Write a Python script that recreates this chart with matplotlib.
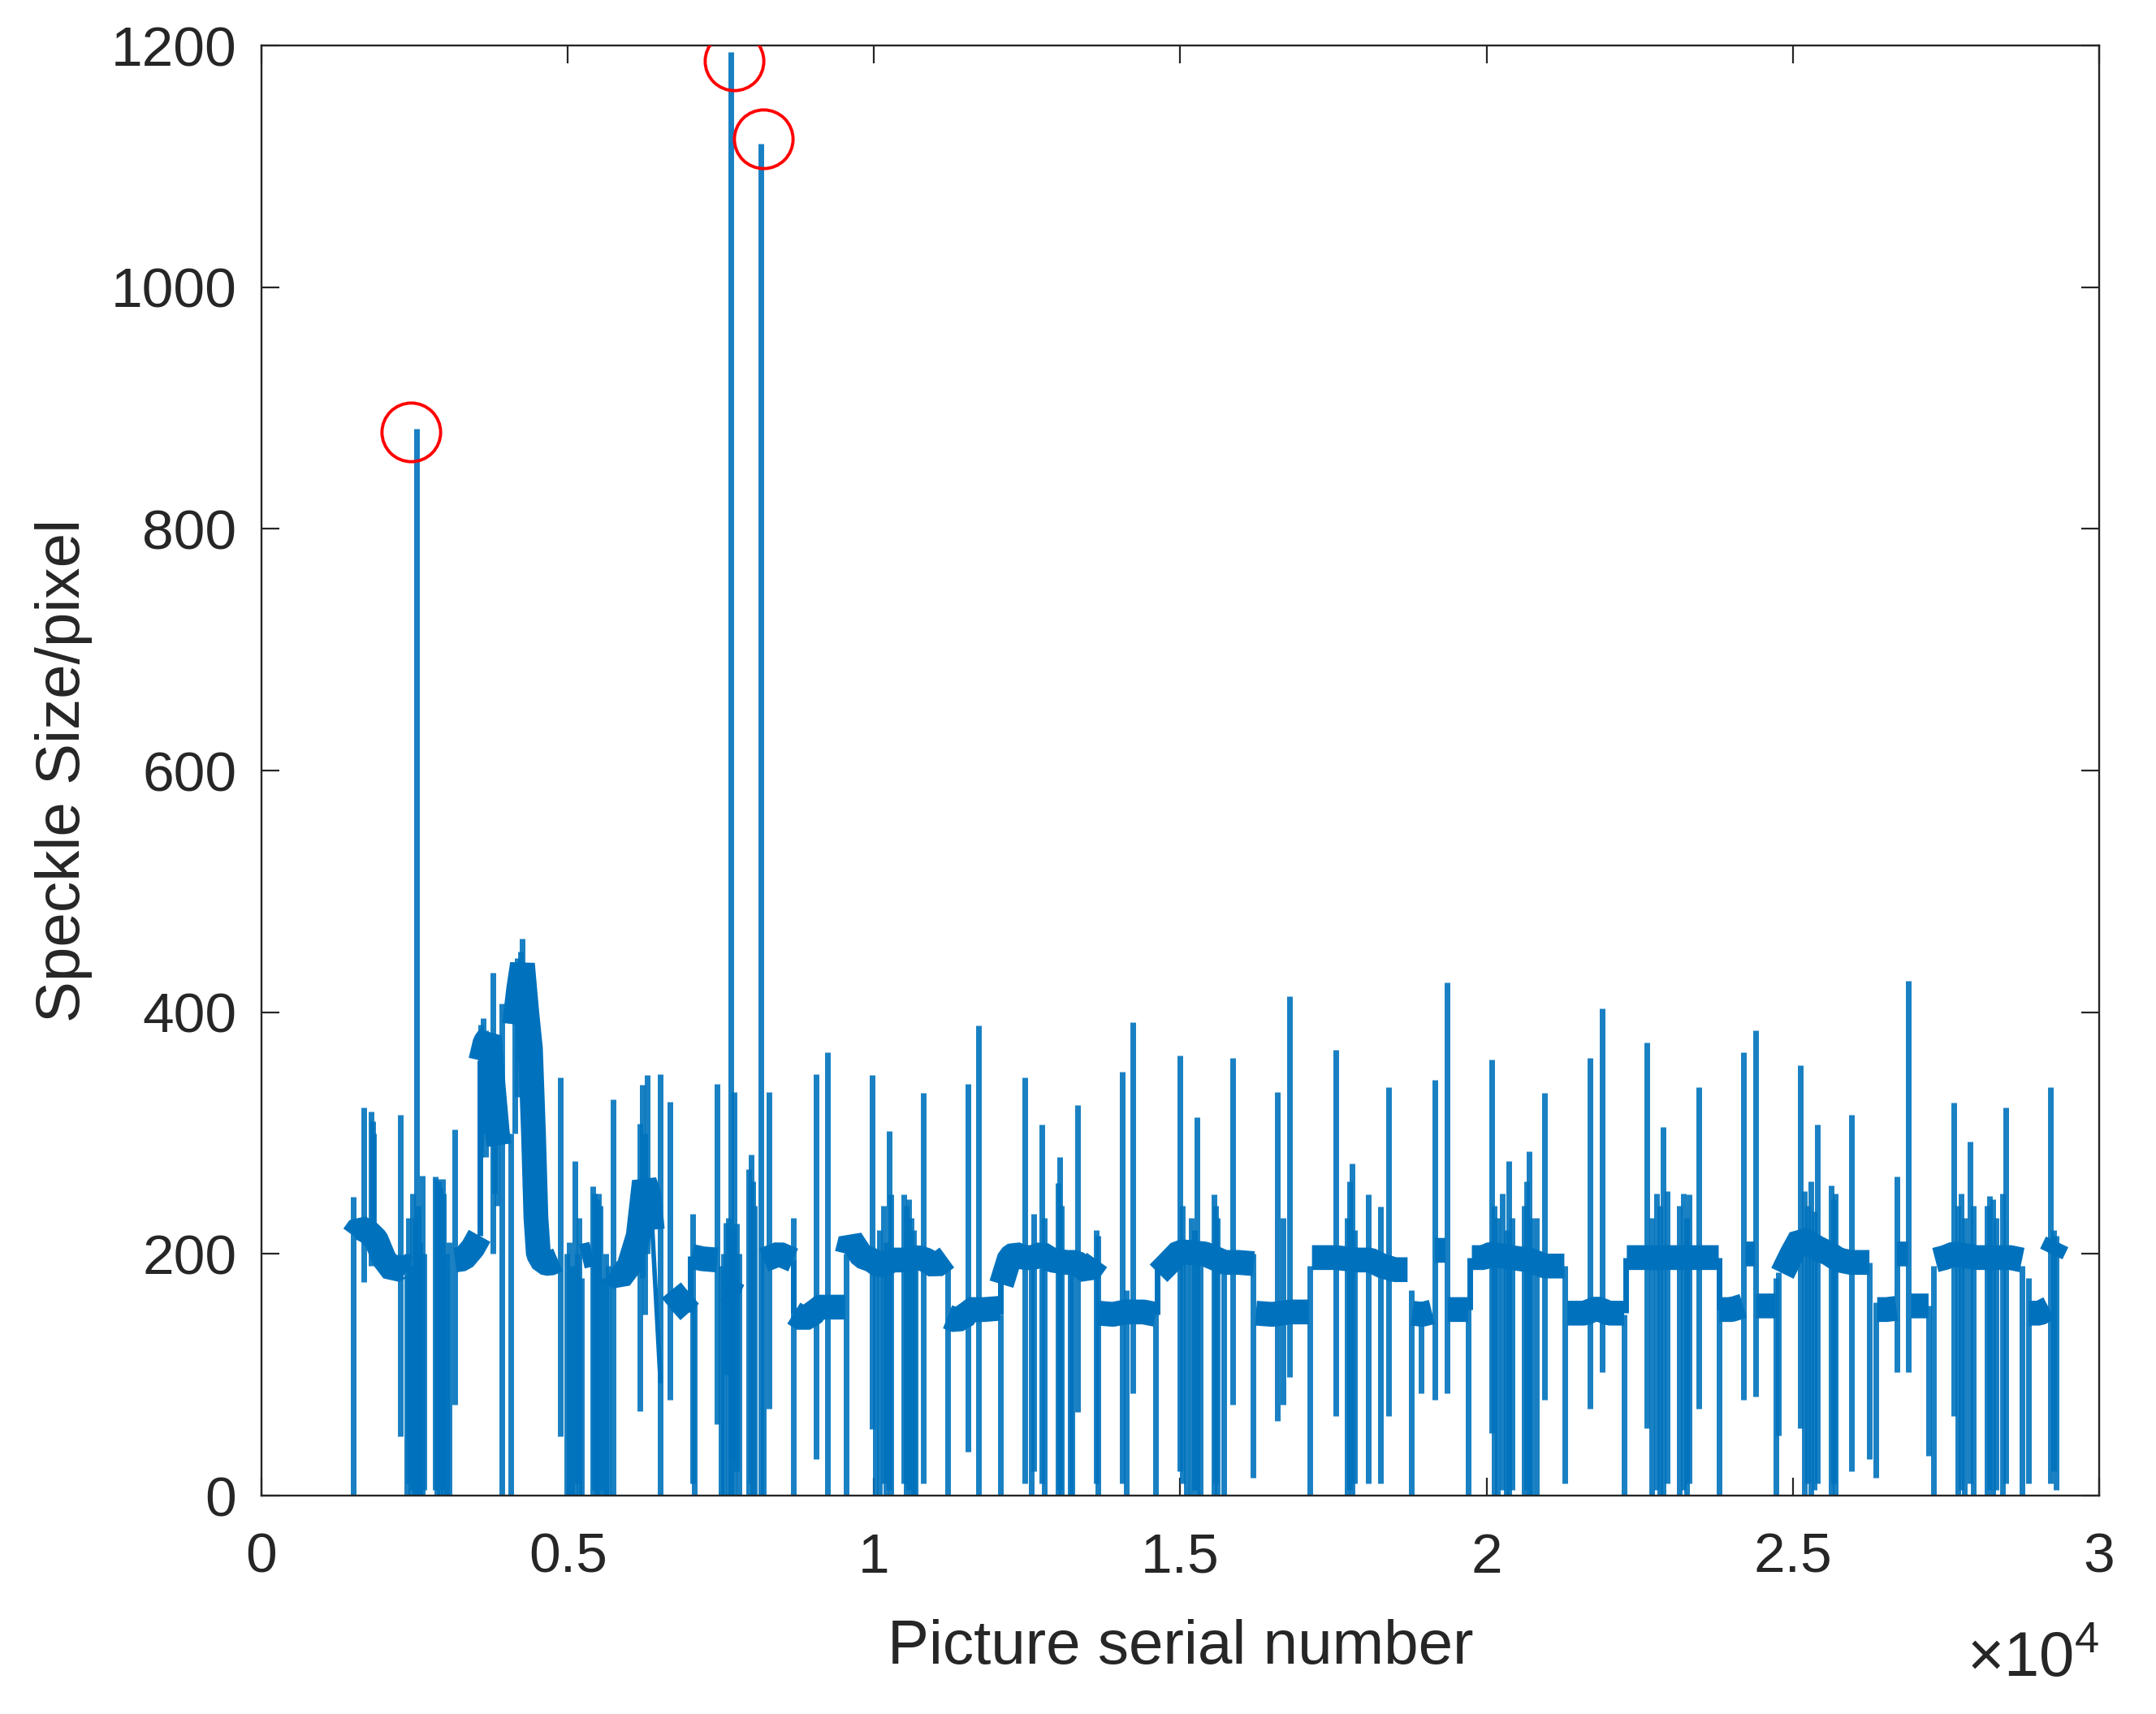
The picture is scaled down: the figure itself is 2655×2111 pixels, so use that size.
import matplotlib
matplotlib.use("Agg")
import matplotlib.pyplot as plt
import numpy as np

plt.rcParams["font.family"] = ["Liberation Sans", "DejaVu Sans"]

nan = np.nan

# dense baseline band (speckle size between the jumps), nan = gap between levels
base_x = [1500, 1600, 1750, 1870, 2000, 2150, 2300, 2380, nan,
          3160, 3300, 3450, 3560, nan,
          3580, 3650, 3720, 3780, 3850, 3880, nan,
          4130, 4200, 4260, 4330, 4390, 4440, 4480, 4520, 4600, 4700, 4840, nan,
          5230, 5400, nan,
          5700, 5850, 6000, 6150, 6250, 6320, 6380, nan,
          6690, 6850, 6990, nan,
          7020, 7200, 7440, nan,
          7570, 7800, nan,
          8200, 8450, 8680, nan,
          8690, 8850, 9040, 9060, 9300, 9530, nan,
          9560, 9620, 9800, 9960, 10100, 10300, 10450, 10720, 10850, 11000, 11190, nan,
          11200, 11350, 11520, 11540, 11800, 12050, nan,
          12080, 12214, 12300, 12450, 12600, 12740, 12900, 13142, 13300, 13500, 13640, nan,
          13672, 13900, 14100, 14400, 14600, nan,
          14644, 14800, 14990, 15400, 15720, 15950, 16200, nan,
          16235, 16500, 16800, 17100, nan,
          17150, 17300, 17540, 17900, 18100, 18300, 18500, 18710, nan,
          18790, 18950, 19108, nan,
          19160, 19330, nan,
          19370, 19550, 19700, nan,
          19760, 19950, 20080, 20400, 20700, 20950, 21100, 21270, nan,
          21318, 21600, 21800, 22000, 22246, nan,
          22290, 22450, 22620, 22900, 23250, 23500, 23790, nan,
          23800, 24000, 24190, nan,
          24230, 24380, nan,
          24400, 24550, 24720, nan,
          24830, 24985, 25126, 25400, 25600, 25750, 25950, 26250, nan,
          26377, 26531, 26690, nan,
          26700, 26880, nan,
          26930, 27100, 27216, nan,
          27327, 27480, 27630, 28000, 28343, 28550, 28741, nan,
          28851, 29028, 29183, nan,
          29220, 29315]
base_y = [215, 222, 218, 212, 196, 186, 190, 188, nan,
          195, 196, 205, 215, nan,
          360, 375, 380, 340, 300, 290, nan,
          390, 420, 440, 400, 370, 300, 230, 200, 193, 192, 195, nan,
          198, 200, nan,
          185, 180, 190, 215, 260, 250, 220, nan,
          170, 160, 152, nan,
          198, 196, 195, nan,
          170, 165, nan,
          195, 200, 195, nan,
          151, 146, 152, 156, 156, 156, nan,
          200, 212, 198, 195, 190, 195, 195, 197, 195, 190, 197, nan,
          148, 145, 150, 154, 154, 155, nan,
          175, 197, 200, 197, 197, 200, 195, 193, 193, 185, 195, nan,
          151, 150, 152, 152, 150, nan,
          184, 192, 202, 200, 193, 193, 192, nan,
          151, 150, 152, 152, nan,
          197, 197, 197, 195, 195, 190, 187, 187, nan,
          151, 150, 152, nan,
          203, 203, nan,
          154, 154, 154, nan,
          197, 197, 200, 197, 195, 190, 190, 190, nan,
          151, 151, 155, 151, 151, nan,
          197, 197, 197, 197, 197, 197, 197, nan,
          154, 154, 157, nan,
          200, 200, nan,
          157, 157, 157, nan,
          184, 200, 213, 205, 200, 195, 193, 193, nan,
          154, 154, 155, nan,
          200, 200, nan,
          157, 157, 157, nan,
          195, 197, 200, 197, 197, 197, 195, nan,
          151, 151, 155, nan,
          200, 210]

# slow decay after the bump near 0.65e4
ramp_x = [6380, 6513]
ramp_y = [220, 95]

# steps where the band changes level
step_x = [3570, 7005, 8685, 12065, 14622, 19730, 22268, 23796]
step_lo = [215, 152, 151, 150, 150, 154, 151, 154]
step_hi = [360, 198, 195, 180, 190, 197, 197, 197]

# sudden jumps: picture index, lowest and highest value of each excursion
spike_x = [1498, 1675, 1790, 1810, 1830, 2271,
           2370, 2400, 2440, 2470, 2500, 2525, 2560, 2590, 2620, 2650,
           2830, 2860, 2890, 2920, 2950, 2975, 3022, 3060, 3150,
           3580, 3620, 3660, 3700, 3740, 3774, 3800, 3840, 3928, 4070,
           4140, 4180, 4230, 4260, 4300, 4350, 4400, 4878,
           4980, 5020, 5060, 5121, 5160, 5188, 5220,
           5410, 5440, 5470, 5500, 5530, 5585, 5620, 5660, 5740,
           6180, 6220, 6260, 6300, 6513, 6668, 7044,
           7066, 7442, 7508, 7540, 7580, 7620, 7662, 7690, 7720, 7760, 7795,
           7955, 7990, 8016, 8050, 8147, 8193, 8282, 8679, 9055, 9245, 9541, 9970,
           10020, 10093, 10150, 10200, 10248, 10270,
           10491, 10520, 10560, 10600, 10640, 10668, 10809, 11198, 11529, 11706, 12060,
           12457, 12568, 12612, 12736, 12780,
           13000, 13031, 13060, 13200, 13230, 13319, 13628, 13650, 14048, 14114, 14225, 14600,
           14998, 15030, 15100, 15175, 15230, 15272, 15320, 15550, 15572, 15600, 15705, 15860,
           16191, 16589, 16677, 16788, 17119, 17539,
           17720, 17760, 17804, 17850, 18069, 18268, 18401,
           18777, 18931, 19152, 19351, 19705, 20080,
           20120, 20180, 20257, 20320, 20367, 20420, 20611, 20650, 20690, 20720, 20809, 20942,
           21273, 21693, 21892, 22246, 22621,
           22700, 22776, 22830, 22886, 22953, 23150, 23218, 23260, 23306, 23461, 23792, 24190,
           24388, 24720, 24764, 25126,
           25184, 25240, 25294, 25350, 25396, 25626, 25660, 25692, 25957, 26244, 26355, 26699, 26885,
           27216, 27300, 27623,
           27690, 27750, 27800, 27893, 27950, 28170, 28211, 28260, 28320, 28420, 28476,
           28741, 28851, 29205, 29260, 29300]
spike_lo = [0, 177, 190, 195, 200, 49,
            0, 10, 0, 5, 0, 0, 0, 0, 0, 5,
            5, 0, 10, 0, 5, 0, 0, 0, 75,
            280, 300, 280, 330, 300, 200, 250, 240, 0, 0,
            300, 330, 360, 350, 340, 320, 240, 49,
            0, 0, 0, 0, 10, 0, 0,
            0, 5, 0, 0, 5, 0, 0, 0, 0,
            70, 180, 150, 200, 0, 79, 10,
            0, 59, 0, 0, 100, 0, 0, 30, 0, 20, 0,
            0, 10, 0, 0, 0, 0, 72, 0, 30, 0, 0, 55,
            0, 0, 10, 0, 5, 0,
            10, 0, 5, 0, 0, 0, 10, 0, 36, 0, 0,
            10, 0, 20, 10, 0,
            0, 5, 0, 0, 0, 69, 10, 0, 10, 0, 85, 0,
            20, 10, 0, 0, 5, 0, 0, 0, 10, 0, 0, 75,
            15, 62, 75, 98, 0, 66,
            0, 5, 0, 10, 10, 10, 66,
            0, 85, 79, 85, 0, 52,
            0, 0, 5, 0, 0, 5, 0, 5, 0, 0, 0, 79,
            10, 72, 102, 0, 56,
            0, 5, 0, 0, 10, 0, 5, 0, 10, 72, 0, 79,
            82, 0, 50, 56,
            0, 10, 0, 5, 10, 0, 10, 0, 20, 30, 15, 102, 102,
            33, 0, 66,
            0, 5, 0, 10, 0, 0, 5, 0, 5, 0, 10,
            0, 10, 10, 20, 5]
spike_hi = [247, 321, 318, 310, 300, 315,
            200, 230, 190, 250, 230, 883, 240, 210, 265, 200,
            264, 262, 260, 255, 262, 250, 200, 210, 303,
            390, 395, 385, 380, 370, 433, 360, 330, 407, 300,
            430, 445, 450, 461, 440, 420, 380, 346,
            200, 210, 190, 277, 200, 230, 180,
            256, 250, 245, 250, 240, 180, 200, 190, 328,
            308, 340, 300, 348, 349, 326, 233,
            160, 341, 190, 200, 226, 230, 1195, 220, 334, 225, 200,
            270, 282, 260, 240, 1119, 200, 334, 230, 349, 367, 200, 348,
            200, 220, 240, 210, 302, 249,
            249, 240, 245, 230, 220, 200, 333, 190, 341, 389, 150,
            346, 200, 233, 307, 230,
            259, 280, 240, 190, 200, 323, 220, 215, 351, 170, 392, 160,
            364, 240, 210, 230, 220, 313, 200, 249, 240, 230, 200, 362,
            200, 334, 230, 413, 190, 369,
            230, 260, 275, 220, 249, 239, 338,
            170, 152, 344, 425, 160, 361,
            240, 230, 250, 220, 277, 230, 240, 260, 285, 230, 230, 333,
            190, 362, 403, 150, 375,
            230, 250, 240, 305, 252, 240, 250, 230, 249, 338, 155, 367,
            385, 180, 185, 356,
            252, 240, 260, 235, 307, 257, 245, 250, 315, 193, 160, 264, 426,
            157, 190, 325,
            240, 250, 230, 293, 240, 240, 248, 245, 230, 250, 321,
            190, 180, 338, 220, 215]

# red circles marking the three abnormal peaks
circle_x = [2437, 7713, 8193]
circle_y = [880, 1187, 1123]

x_ticks = [0, 5000, 10000, 15000, 20000, 25000, 30000]
x_tick_labels = ["0", "0.5", "1", "1.5", "2", "2.5", "3"]
y_ticks = [0, 200, 400, 600, 800, 1000, 1200]

line_color = "#0072BD"
text_color = "#262626"

fig = plt.figure(figsize=(26.55, 21.11), dpi=100)
ax = fig.add_axes([0.1213, 0.1274, 0.8523, 0.8460])

ax.vlines(spike_x, spike_lo, spike_hi, color=line_color, linewidth=5, alpha=0.9)
ax.vlines(step_x, step_lo, step_hi, color=line_color, linewidth=5)
ax.plot(ramp_x, ramp_y, color=line_color, linewidth=4)
ax.plot(base_x, base_y, color=line_color, linewidth=22,
        solid_capstyle="butt", solid_joinstyle="bevel")
ax.plot(circle_x, circle_y, "o", markerfacecolor="none", markeredgecolor="red",
        markersize=52, markeredgewidth=2.8, zorder=5)

ax.set_xlim(0, 30000)
ax.set_ylim(0, 1200)
ax.set_xticks(x_ticks)
ax.set_xticklabels(x_tick_labels)
ax.set_yticks(y_ticks)
ax.tick_params(direction="in", length=16, width=1.6, top=True, right=True,
               labelsize=50, colors=text_color)
ax.tick_params(axis="x", pad=32)
ax.tick_params(axis="y", pad=22)
for s in ax.spines.values():
    s.set_linewidth(1.7)
    s.set_color(text_color)

ax.set_xlabel("Picture serial number", fontsize=55, color=text_color)
ax.xaxis.set_label_coords(0.5, -0.085)
ax.set_ylabel("Speckle Size/pixel", fontsize=55, color=text_color)
ax.yaxis.set_label_coords(-0.092, 0.5)
ax.text(1.0, -0.125, r"$\mathregular{\times10^4}$", transform=ax.transAxes,
        ha="right", va="baseline", fontsize=56, color=text_color)

fig.savefig("out.png", dpi=100, facecolor="white")
plt.close(fig)
